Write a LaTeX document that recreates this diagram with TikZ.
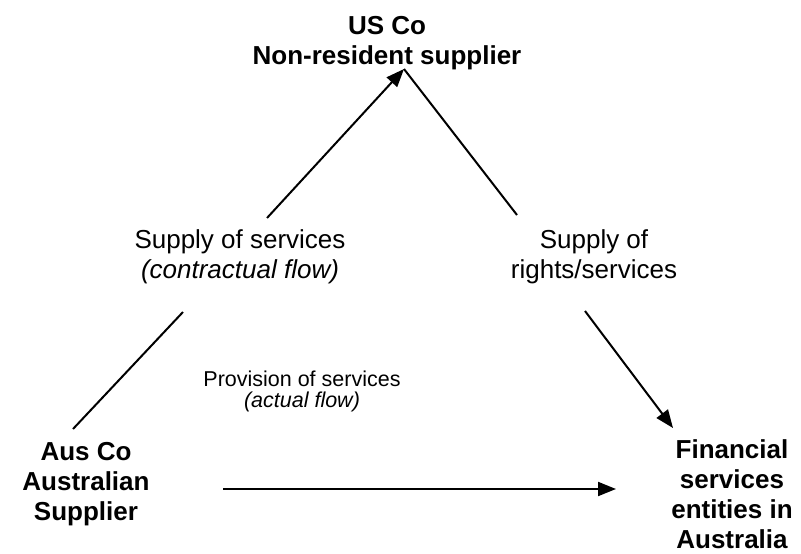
\documentclass[tikz,border=0pt]{standalone}
\usepackage{fontspec}
\setmainfont{Liberation Sans}
\usetikzlibrary{arrows.meta}
\begin{document}
\begin{tikzpicture}[x=1pt,y=-1pt,
  party/.style={font=\fontsize{26}{30}\selectfont\bfseries, align=center, inner sep=0pt, anchor=base},
  lbl/.style={font=\fontsize{26}{30}\selectfont, align=center, inner sep=0pt, anchor=base},
  smalllbl/.style={font=\fontsize{21.5}{21}\selectfont, align=center, inner sep=0pt, anchor=base},
  link/.style={line width=2pt},
  flow/.style={link, -{Triangle[length=18pt,width=14pt]}}]
\useasboundingbox (0,0) rectangle (801,554);
\node[party] (us) at (387,64) {US Co\\Non-resident supplier};
\node[party] (aus) at (86,520) {Aus Co\\Australian\\Supplier};
\node[party] (fin) at (732,548) {Financial\\services\\entities in\\Australia};
\node[lbl] (sos) at (240,278) {Supply of services\\\textit{(contractual flow)}};
\node[lbl] (sor) at (594,278) {Supply of\\rights/services};
\node[smalllbl] (pos) at (302,407) {Provision of services\\\textit{(actual flow)}};
\coordinate (a1) at (73,429);
\coordinate (a2) at (183,312);
\coordinate (a3) at (267,218);
\coordinate (tip) at (404,69);
\coordinate (b1) at (517,215);
\coordinate (b2) at (585,311);
\coordinate (b3) at (673,428);
\coordinate (h1) at (223,489);
\coordinate (h2) at (616,489);
\draw[link] (a1) -- (a2);
\draw[flow] (a3) -- (tip);
\draw[link] (tip) -- (b1);
\draw[flow] (b2) -- (b3);
\draw[flow] (h1) -- (h2);
\end{tikzpicture}
\end{document}
